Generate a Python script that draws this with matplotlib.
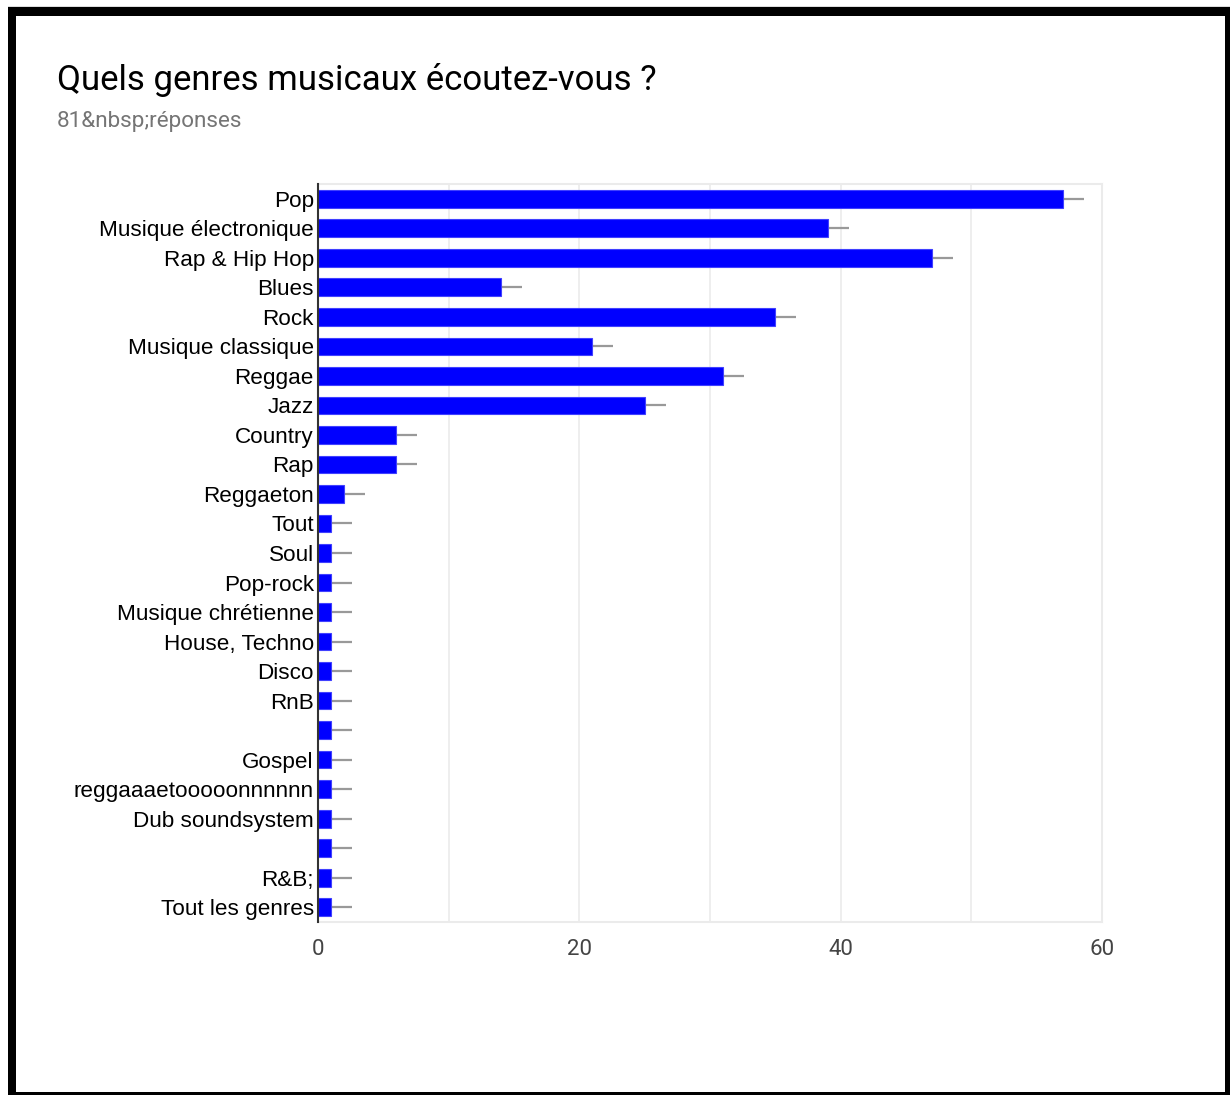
import matplotlib
matplotlib.use("Agg")
import matplotlib.pyplot as plt
from matplotlib.patches import Rectangle

genres = [
    "Pop", "Musique électronique", "Rap & Hip Hop", "Blues", "Rock",
    "Musique classique", "Reggae", "Jazz", "Country", "Rap", "Reggaeton",
    "Tout", "Soul", "Pop-rock", "Musique chrétienne", "House, Techno",
    "Disco", "RnB", "", "Gospel", "reggaaaetooooonnnnnn", "Dub soundsystem",
    "", "R&B;", "Tout les genres",
]
counts = [57, 39, 47, 14, 35, 21, 31, 25, 6, 6, 2,
          1, 1, 1, 1, 1, 1, 1, 1, 1, 1, 1, 1, 1, 1]
x_ticks = [0, 20, 40, 60]

W, H = 1230, 1095
fig = plt.figure(figsize=(W / 100, H / 100), dpi=100)
fig.patch.set_facecolor("white")

ax = fig.add_axes([318 / W, 1 - 922 / H, (1102 - 318) / W, (922 - 184) / H])

pos = list(range(len(genres)))
ax.barh(pos, counts, height=0.6, color="#0000ff", edgecolor="#4040ff",
        linewidth=0.8, zorder=3)
# grey whisker to the right of each bar
ax.errorbar(counts, pos, xerr=([0] * len(counts), [1.6] * len(counts)),
            fmt="none", ecolor="#999999", elinewidth=1.6, capsize=0, zorder=2)

ax.set_xlim(0, 60)
ax.set_ylim(len(genres) - 0.5, -0.5)
ax.set_yticks(pos)
ax.set_yticklabels(genres, fontsize=16.2, family="Liberation Sans", color="black")
ax.set_xticks(x_ticks)
ax.set_xticklabels([str(t) for t in x_ticks], fontsize=16, family="Roboto",
                   color="#444444")
ax.tick_params(axis="y", length=0, pad=3)
ax.tick_params(axis="x", length=0, pad=12)

for v in range(10, 61, 10):
    ax.axvline(v, color="#ebebeb", lw=1.2, zorder=1)

for side in ["top", "right", "bottom"]:
    ax.spines[side].set_color("#ebebeb")
    ax.spines[side].set_linewidth(1.5)
ax.spines["left"].set_color("#333333")
ax.spines["left"].set_linewidth(1.5)
ax.spines["left"].set_zorder(4)

fig.text(57 / W, 1 - 80 / H, "Quels genres musicaux écoutez-vous ?",
         fontsize=25, family="Roboto", color="black", va="center", ha="left")
fig.text(57 / W, 1 - 121 / H, "81&nbsp;réponses", fontsize=16.2,
         family="Roboto", color="#757575", va="center", ha="left")

# black frame around the card
def px_rect(x0, y0, x1, y1, color="black"):
    fig.add_artist(Rectangle((x0 / W, 1 - y1 / H), (x1 - x0) / W, (y1 - y0) / H,
                             transform=fig.transFigure, color=color, lw=0))

px_rect(8, 6, 1230, 7, color="#dddddd")
px_rect(8, 7, 1230, 16)
px_rect(8, 7, 16, 1095)
px_rect(1225, 7, 1230, 1095)
px_rect(8, 1092, 1230, 1095)

fig.savefig("out.png", dpi=100, facecolor="white")
